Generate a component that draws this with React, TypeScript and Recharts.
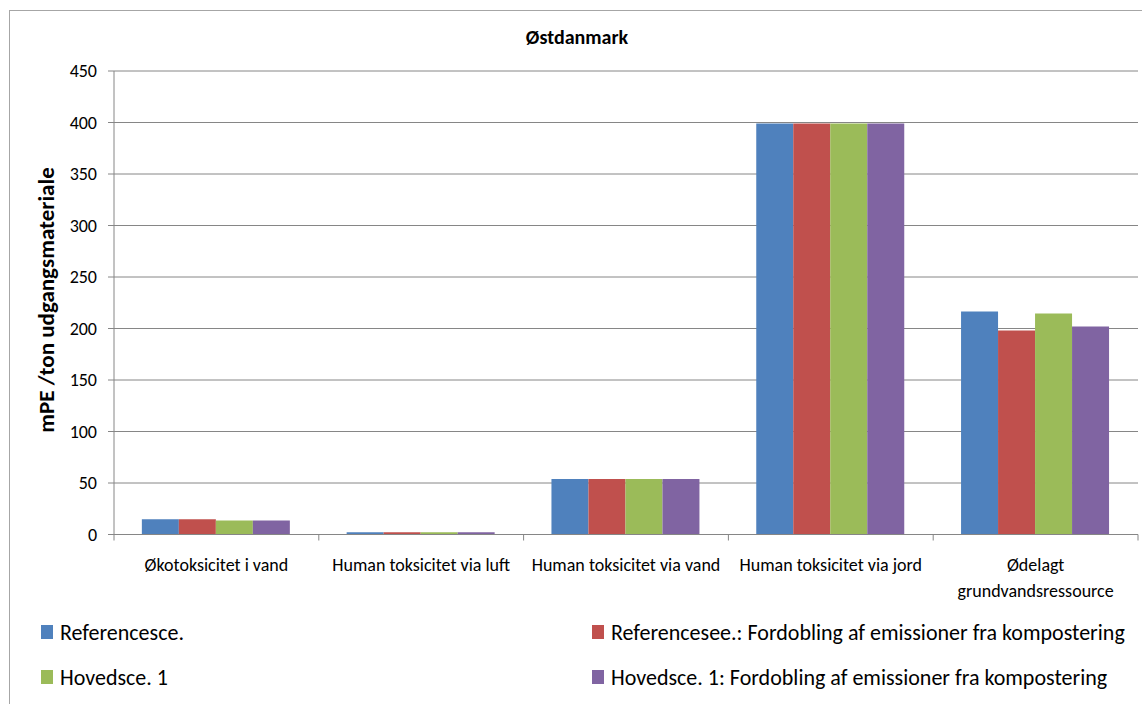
import { Bar, BarChart, CartesianGrid, Legend, XAxis, YAxis } from "recharts";

const categories = [
  "Økotoksicitet i vand",
  "Human toksicitet via luft",
  "Human toksicitet via vand",
  "Human toksicitet via jord",
  "Ødelagt\ngrundvandsressource",
];
const refScenario = [14.8, 2.2, 54, 399, 216.5];
const refDouble = [14.8, 2.2, 54, 399, 198];
const mainScenario = [13.6, 2.2, 54, 399, 214.5];
const mainDouble = [13.6, 2.2, 54, 399, 202];
const yTicks = [0, 50, 100, 150, 200, 250, 300, 350, 400, 450];

const seriesNames = [
  "Referencesce.",
  "Referencesee.: Fordobling af emissioner fra kompostering",
  "Hovedsce. 1",
  "Hovedsce. 1: Fordobling af emissioner fra kompostering",
];
const colors = ["#4F81BD", "#C0504D", "#9BBB59", "#8064A2"];

const FONT = "Carlito, Lato, 'Open Sans', sans-serif";
const AXIS = "#868686";

const rows = categories.map((c, i) => ({
  cat: c,
  s0: refScenario[i],
  s1: refDouble[i],
  s2: mainScenario[i],
  s3: mainDouble[i],
}));

function CatTick(props: any) {
  const { x, y, payload, index } = props;
  const half = payload.offset ?? 102.4;
  const lines = String(payload.value).split("\n");
  return (
    <g>
      <line x1={x - half} x2={x - half} y1={y - 8} y2={y - 2} stroke={AXIS} />
      {index === categories.length - 1 && (
        <line x1={x + half} x2={x + half} y1={y - 8} y2={y - 2} stroke={AXIS} />
      )}
      {lines.map((l, k) => (
        <text
          key={k}
          x={x}
          y={y + 22 + k * 26}
          textAnchor="middle"
          dominantBaseline="central"
          fontSize={18}
          fontFamily={FONT}
          fill="#000"
        >
          {l}
        </text>
      ))}
    </g>
  );
}

function YLabel() {
  return (
    <text
      x={46}
      y={300}
      transform="rotate(-90 46 300)"
      textAnchor="middle"
      dominantBaseline="central"
      fontSize={23}
      fontWeight="bold"
      fontFamily={FONT}
      fill="#000"
    >
      mPE /ton udgangsmateriale
    </text>
  );
}

function LegendBox({ payload }: any) {
  const items = [...(payload ?? [])].sort(
    (a: any, b: any) => seriesNames.indexOf(a.value) - seriesNames.indexOf(b.value)
  );
  return (
    <div
      style={{
        display: "grid",
        gridTemplateColumns: "551px 540px",
        rowGap: 19,
        fontFamily: FONT,
        fontSize: 22,
        color: "#000",
      }}
    >
      {items.map((it: any) => (
        <div key={it.value} style={{ display: "flex", alignItems: "center", height: 26, whiteSpace: "nowrap" }}>
          <span
            style={{
              display: "inline-block",
              width: 12,
              height: 14,
              background: it.color,
              marginRight: 7,
            }}
          />
          {it.value}
        </div>
      ))}
    </div>
  );
}

export default function App() {
  return (
    <div
      style={{
        position: "absolute",
        left: 0,
        top: 0,
        width: 1142,
        height: 704,
        overflow: "hidden",
        background: "#fff",
      }}
    >
      <div
        style={{
          position: "absolute",
          left: 9,
          top: 10,
          width: 1150,
          height: 710,
          border: "1px solid #a6a6a6",
        }}
      />
      <div
        style={{
          position: "absolute",
          left: 0,
          top: 25,
          width: 1154,
          textAlign: "center",
          fontFamily: FONT,
          fontWeight: "bold",
          fontSize: 20,
        }}
      >
        Østdanmark
      </div>
      <BarChart
        width={1142}
        height={704}
        data={rows}
        margin={{ top: 71, right: 4, left: 54, bottom: 110 }}
        barCategoryGap="13.6%"
        barGap={0}
        style={{ position: "absolute", left: 0, top: 0 }}
      >
        <CartesianGrid vertical={false} stroke={AXIS} />
        <XAxis
          dataKey="cat"
          interval={0}
          tickLine={false}
          stroke={AXIS}
          tick={<CatTick />}
          height={59.5}
        />
        <YAxis
          width={60}
          domain={[0, 450]}
          ticks={yTicks}
          interval={0}
          stroke={AXIS}
          tickSize={6}
          tickMargin={11}
          tick={{ fill: "#000", fontSize: 18, fontFamily: FONT }}
          label={<YLabel />}
        />
        <Legend
          layout="horizontal"
          verticalAlign="middle"
          align="center"
          content={<LegendBox />}
          wrapperStyle={{ position: "absolute", left: 41, top: 619, width: 1100 }}
        />
        {seriesNames.map((n, i) => (
          <Bar
            key={n}
            dataKey={`s${i}`}
            name={n}
            fill={colors[i]}
            isAnimationActive={false}
          />
        ))}
      </BarChart>
    </div>
  );
}
